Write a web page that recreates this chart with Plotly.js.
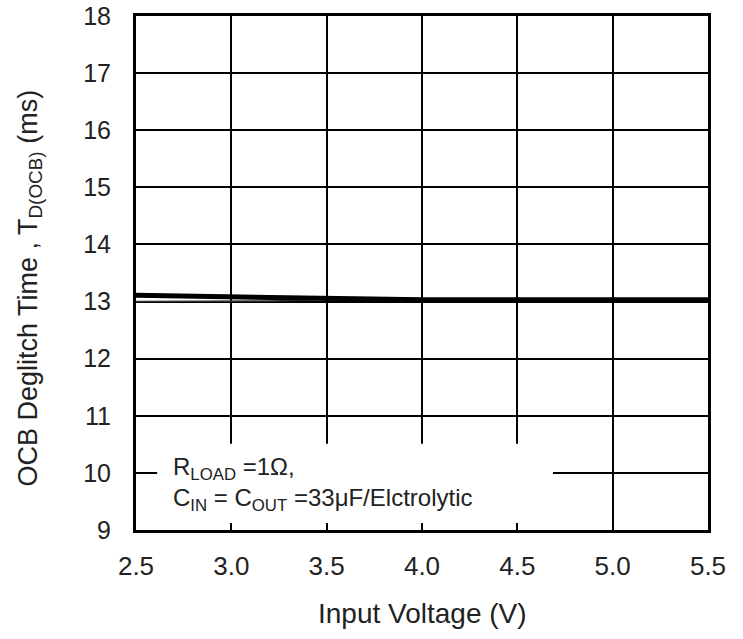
<!DOCTYPE html>
<html>
<head>
<meta charset="utf-8">
<script src="https://cdn.plot.ly/plotly-3.0.1.min.js"></script>
<style>html,body{margin:0;padding:0;background:#fff;}#chart{width:743px;height:639px;}</style>
</head>
<body>
<div id="chart"></div>
<script>
// Main curve (thick)
const vinMain = [2.5, 3.0, 3.5, 4.0, 4.5, 5.0, 5.5];
const tdMain = [13.11, 13.08, 13.05, 13.03, 13.03, 13.03, 13.03];
// Secondary curve (thin)
const vinThin = [2.5, 3.0, 3.2, 3.5, 4.0, 5.5];
const tdThin = [13.0, 13.0, 13.01, 13.03, 13.03, 13.03];

const xTicks = [2.5, 3.0, 3.5, 4.0, 4.5, 5.0, 5.5];
const yTicks = [9, 10, 11, 12, 13, 14, 15, 16, 17, 18];

const font = 'Liberation Sans, Arial, sans-serif';

const traces = [
  {x: vinThin, y: tdThin, mode: 'lines', line: {color: '#333', width: 1.5}, hoverinfo: 'skip'},
  {x: vinMain, y: tdMain, mode: 'lines', line: {color: '#000', width: 5}, hoverinfo: 'skip'}
];

const layout = {
  width: 743, height: 639,
  margin: {l: 136, r: 35, t: 16, b: 109},
  paper_bgcolor: '#fff', plot_bgcolor: '#fff',
  showlegend: false,
  font: {family: font, size: 26, color: '#222'},
  xaxis: {
    range: [2.5, 5.5], tickvals: xTicks, tickformat: '.1f',
    showgrid: true, gridcolor: '#000', gridwidth: 2,
    showline: true, linecolor: '#000', linewidth: 3, mirror: true,
    ticks: '', zeroline: false, ticklabelstandoff: 11, ticklabeloverflow: 'allow',
    tickfont: {family: font, size: 26, color: '#222'}
  },
  yaxis: {
    range: [9, 18], tickvals: yTicks,
    showgrid: true, gridcolor: '#000', gridwidth: 2,
    showline: true, linecolor: '#000', linewidth: 3, mirror: true,
    ticks: '', zeroline: false, ticklabelstandoff: 17, ticklabeloverflow: 'allow',
    tickfont: {family: font, size: 25, color: '#222'}
  },
  shapes: [
    {type: 'rect', xref: 'paper', yref: 'paper', x0: 0.037, x1: 0.729, y0: 0.0135, y1: 0.168,
     fillcolor: '#fff', line: {width: 0}, layer: 'above'}
  ],
  annotations: [
    {xref: 'paper', yref: 'paper', x: 0.062, y: 0.09, xanchor: 'left', yanchor: 'middle',
     align: 'left', showarrow: false,
     text: 'R<sub>LOAD</sub> =1Ω,<br>C<sub>IN</sub> = C<sub>OUT</sub> =33μF/Elctrolytic',
     font: {family: font, size: 24, color: '#222'}},
    {xref: 'paper', yref: 'paper', x: 0.5, y: -0.163, xanchor: 'center', yanchor: 'middle',
     showarrow: false, text: 'Input Voltage (V)',
     font: {family: font, size: 28, color: '#222'}},
    {xref: 'paper', yref: 'paper', x: -0.185, y: 0.47, xanchor: 'center', yanchor: 'middle',
     showarrow: false, textangle: -90,
     text: 'OCB Deglitch Time , T<sub>D(OCB)</sub> (ms)',
     font: {family: font, size: 27, color: '#222'}}
  ]
};

Plotly.newPlot('chart', traces, layout, {displayModeBar: false, staticPlot: true});
</script>
</body>
</html>
